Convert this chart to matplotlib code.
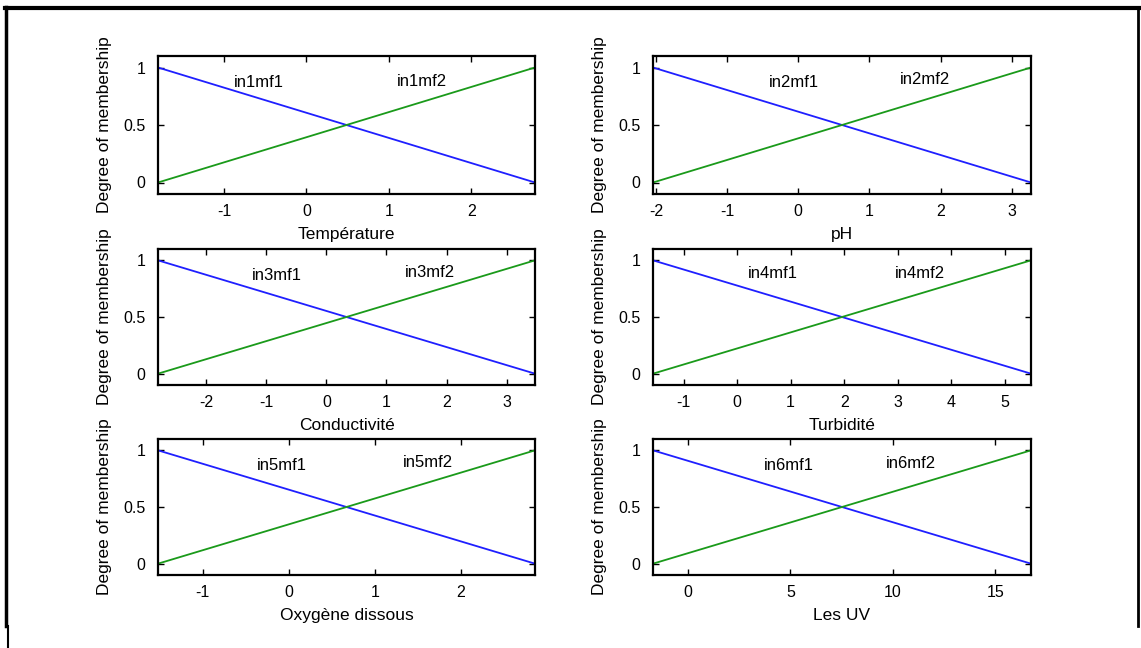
import matplotlib
matplotlib.use("Agg")
import matplotlib.pyplot as plt
from matplotlib.lines import Line2D
import numpy as np

plt.rcParams['font.family'] = ['Liberation Sans', 'DejaVu Sans']

# Input variables of the fuzzy system
variables = ["Température", "pH", "Conductivité", "Turbidité", "Oxygène dissous", "Les UV"]
mf_names = [("in1mf1", "in1mf2"), ("in2mf1", "in2mf2"), ("in3mf1", "in3mf2"),
            ("in4mf1", "in4mf2"), ("in5mf1", "in5mf2"), ("in6mf1", "in6mf2")]

# Universe of discourse for each input
x_min = [-1.80, -2.04, -2.80, -1.57, -1.52, -1.71]
x_max = [2.77, 3.27, 3.47, 5.49, 2.86, 16.74]

# Membership degrees at both ends of the range (mf1 falls, mf2 rises)
mf1_ends = [1.0, 0.0]
mf2_ends = [0.0, 1.0]

x_ticks = [
    [-1, 0, 1, 2],
    [-2, -1, 0, 1, 2, 3],
    [-2, -1, 0, 1, 2, 3],
    [-1, 0, 1, 2, 3, 4, 5],
    [-1, 0, 1, 2],
    [0, 5, 10, 15],
]
y_ticks = [0, 0.5, 1]
y_tick_labels = ["0", "0.5", "1"]

# Where each membership function name is written (x, y)
mf1_label_pos = [(-0.58, 0.87), (-0.06, 0.87), (-0.83, 0.87), (0.67, 0.88), (-0.08, 0.87), (4.9, 0.87)]
mf2_label_pos = [(1.40, 0.88), (1.78, 0.90), (1.72, 0.89), (3.42, 0.88), (1.62, 0.89), (10.9, 0.88)]

W, H = 1141, 648
fig = plt.figure(figsize=(W / 100, H / 100), dpi=100)

col_left = [158, 653]
col_right = [535, 1031]
row_top = [56, 249, 439]
row_bottom = [194, 385, 575]

blue = "#1f1fff"
green = "#1a9a1a"
fs_tick = 11.5
fs_label = 12.5
fs_mf = 12

for i, var in enumerate(variables):
    r, c = divmod(i, 2)
    l, rgt = col_left[c], col_right[c]
    t, b = row_top[r], row_bottom[r]
    ax = fig.add_axes([l / W, 1 - b / H, (rgt - l) / W, (b - t) / H])
    xs = [x_min[i], x_max[i]]
    ax.plot(xs, mf1_ends, color=blue, lw=1.3)
    ax.plot(xs, mf2_ends, color=green, lw=1.3)
    ax.set_xlim(x_min[i], x_max[i])
    ax.set_ylim(-0.1, 1.1)
    ax.set_xticks(x_ticks[i])
    ax.set_xticklabels([str(v) for v in x_ticks[i]], fontsize=fs_tick)
    ax.set_yticks(y_ticks)
    ax.set_yticklabels(y_tick_labels, fontsize=fs_tick)
    ax.tick_params(direction="in", top=True, right=True, length=4, width=1)
    ax.tick_params(axis="x", pad=7)
    ax.tick_params(axis="y", pad=9)
    for s in ax.spines.values():
        s.set_linewidth(1.6)
    ax.set_xlabel(var, fontsize=fs_label, labelpad=6)
    ax.set_ylabel("Degree of membership", fontsize=fs_label, labelpad=8)
    ax.text(*mf1_label_pos[i], mf_names[i][0], fontsize=fs_mf, ha="center", va="center")
    ax.text(*mf2_label_pos[i], mf_names[i][1], fontsize=fs_mf, ha="center", va="center")

# Page frame around the figure
def px_line(x0, y0, x1, y1, lw):
    fig.add_artist(Line2D([x0 / W, x1 / W], [1 - y0 / H, 1 - y1 / H],
                          color="black", lw=lw, transform=fig.transFigure))

px_line(5, 7.5, 1139, 7.5, 3.0)
px_line(5.5, 7, 5.5, 626, 2.5)
px_line(1138, 7, 1138, 626, 2.0)
px_line(8, 626, 8, 648, 1.5)

fig.savefig("out.png", dpi=100)
